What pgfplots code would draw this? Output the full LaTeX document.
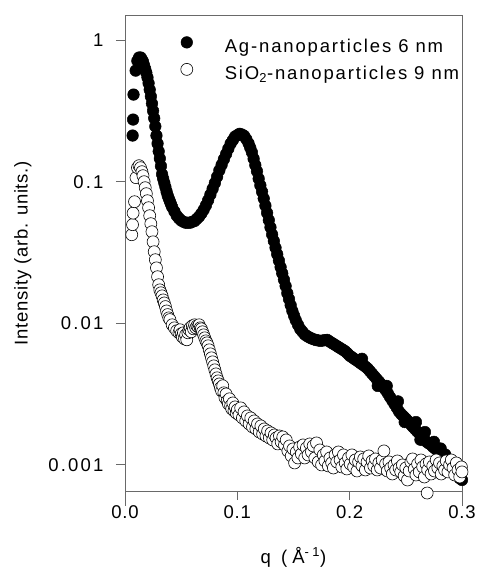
\documentclass[border=0pt]{standalone}
\usepackage{fontspec}
\setmainfont{Liberation Sans}[LetterSpace=4]
\newfontfamily\legfont{Liberation Sans}[LetterSpace=10]
\newfontfamily\ytfont{Liberation Sans}[LetterSpace=12]
\newfontfamily\xlfont{Liberation Sans}[LetterSpace=27]
\usepackage{pgfplots}
\pgfplotsset{compat=1.18}
\usepackage{pgfplotstable}
\definecolor{axgray}{RGB}{105,105,105}

\pgfplotstableread{
q I
0.0068 0.212
0.0072 0.275
0.0076 0.413
0.0095 0.610
0.0110 0.715
0.0125 0.755
0.0140 0.755
0.0150 0.730
0.016 0.707
0.017 0.665
0.018 0.627
0.019 0.589
0.020 0.545
0.021 0.497
0.022 0.447
0.023 0.401
0.024 0.357
0.025 0.317
0.026 0.281
0.027 0.246
0.028 0.212
0.029 0.186
0.030 0.164
0.031 0.146
0.032 0.129
0.033 0.113
0.034 0.105
0.035 0.0981
0.036 0.0915
0.037 0.0852
0.038 0.0798
0.039 0.0760
0.040 0.0725
0.041 0.0692
0.042 0.0661
0.044 0.0616
0.046 0.0576
0.048 0.0551
0.050 0.0532
0.052 0.0521
0.054 0.0513
0.056 0.0513
0.058 0.0513
0.060 0.0521
0.062 0.0528
0.064 0.0547
0.066 0.0567
0.068 0.0596
0.070 0.0632
0.072 0.0679
0.074 0.0739
0.076 0.0810
0.078 0.0890
0.080 0.0979
0.082 0.1084
0.084 0.1203
0.086 0.1315
0.088 0.1441
0.090 0.1568
0.092 0.1710
0.094 0.1858
0.096 0.1967
0.098 0.2086
0.100 0.2131
0.102 0.2181
0.104 0.2156
0.106 0.2111
0.108 0.2000
0.110 0.1867
0.1115 0.1738
0.113 0.1612
0.1145 0.1455
0.116 0.1311
0.1175 0.1185
0.119 0.105
0.1205 0.0943
0.122 0.0850
0.1235 0.0761
0.125 0.0677
0.1265 0.0602
0.128 0.0535
0.1295 0.0476
0.131 0.0423
0.1325 0.0381
0.134 0.0341
0.1355 0.0307
0.137 0.0277
0.1385 0.0249
0.140 0.0225
0.1415 0.0203
0.143 0.0183
0.1445 0.0163
0.146 0.0148
0.1475 0.0134
0.149 0.0122
0.1505 0.0113
0.152 0.0105
0.154 0.00974
0.156 0.00909
0.158 0.00869
0.160 0.00832
0.162 0.00811
0.164 0.00794
0.166 0.00780
0.168 0.00769
0.170 0.00760
0.172 0.00755
0.174 0.00750
0.176 0.00754
0.178 0.00759
0.180 0.00762
0.182 0.00743
0.184 0.00726
0.186 0.00710
0.188 0.00694
0.190 0.00678
0.192 0.00663
0.194 0.00648
0.196 0.00633
0.198 0.00612
0.200 0.00589
0.202 0.00575
0.204 0.00560
0.206 0.00547
0.208 0.00533
0.210 0.00519
0.211 0.00560
0.212 0.00506
0.214 0.00493
0.216 0.00478
0.218 0.00458
0.220 0.00439
0.222 0.00421
0.224 0.00403
0.225 0.00360
0.226 0.00387
0.228 0.00370
0.230 0.00353
0.232 0.00337
0.233 0.00360
0.234 0.00319
0.236 0.00300
0.238 0.00283
0.240 0.00267
0.242 0.00252
0.243 0.00280
0.244 0.00237
0.246 0.00227
0.248 0.00219
0.249 0.00200
0.250 0.00211
0.252 0.00203
0.254 0.00194
0.256 0.00186
0.258 0.00179
0.259 0.00200
0.260 0.00172
0.262 0.00166
0.263 0.00150
0.264 0.00160
0.266 0.00153
0.267 0.00170
0.268 0.00146
0.270 0.00142
0.272 0.00139
0.274 0.00134
0.275 0.00145
0.276 0.00130
0.278 0.00126
0.280 0.00121
0.281 0.00130
0.282 0.00116
0.284 0.00112
0.285 0.00118
0.286 0.00108
0.288 0.00104
0.289 0.00095
0.290 0.00102
0.292 0.000941
0.294 0.000882
0.296 0.000841
0.298 0.000800
0.300 0.000779
}\agdata

\pgfplotstableread{
q I
0.0060 0.0422
0.0067 0.0497
0.0072 0.0600
0.0085 0.0722
0.0098 0.1068
0.0111 0.1256
0.0125 0.1298
0.0138 0.1256
0.0151 0.1177
0.016 0.1103
0.017 0.1000
0.018 0.0907
0.019 0.0823
0.020 0.0734
0.021 0.0655
0.022 0.0575
0.023 0.0505
0.024 0.0443
0.025 0.0376
0.026 0.0320
0.027 0.0281
0.028 0.0246
0.029 0.0213
0.030 0.0187
0.031 0.0172
0.032 0.0164
0.033 0.0156
0.034 0.0146
0.035 0.0139
0.036 0.0131
0.037 0.0122
0.038 0.0115
0.039 0.0109
0.040 0.0106
0.042 0.00974
0.044 0.00927
0.046 0.00883
0.048 0.00855
0.049 0.00898
0.050 0.00841
0.051 0.00801
0.052 0.00855
0.053 0.00775
0.054 0.00827
0.055 0.00763
0.056 0.00855
0.057 0.00898
0.058 0.00927
0.059 0.00869
0.060 0.00958
0.061 0.00912
0.062 0.00974
0.063 0.00927
0.064 0.00958
0.065 0.00942
0.066 0.00974
0.067 0.00927
0.068 0.00912
0.069 0.00869
0.070 0.00827
0.071 0.00788
0.072 0.00750
0.073 0.00726
0.074 0.00692
0.075 0.00648
0.076 0.00607
0.077 0.00569
0.078 0.00533
0.079 0.00499
0.080 0.00468
0.081 0.00438
0.082 0.00411
0.083 0.00391
0.084 0.00372
0.085 0.00349
0.086 0.00332
0.087 0.00361
0.088 0.00322
0.089 0.00297
0.090 0.00316
0.091 0.00282
0.092 0.00269
0.093 0.00292
0.094 0.00260
0.095 0.00248
0.096 0.00273
0.097 0.00240
0.098 0.00256
0.099 0.00232
0.100 0.00244
0.1015 0.002246
0.103 0.002518
0.1045 0.002139
0.106 0.002359
0.1075 0.002037
0.109 0.002210
0.1105 0.001940
0.112 0.002139
0.1135 0.001848
0.115 0.002037
0.1165 0.001788
0.118 0.001940
0.1195 0.001703
0.121 0.001878
0.1225 0.001648
0.124 0.001788
0.1255 0.001595
0.127 0.001731
0.1285 0.001544
0.130 0.001675
0.1315 0.001495
0.133 0.001622
0.1345 0.001544
0.136 0.001401
0.1375 0.001595
0.139 0.001447
0.1405 0.001570
0.142 0.001378
0.1435 0.001495
0.145 0.001250
0.1465 0.001356
0.148 0.001152
0.1495 0.001291
0.151 0.001028
0.1525 0.001229
0.154 0.001115
0.1555 0.001334
0.157 0.001190
0.1585 0.001378
0.160 0.001115
0.1615 0.001312
0.163 0.001171
0.1645 0.001401
0.166 0.001229
0.1675 0.001356
0.169 0.001115
0.1705 0.001424
0.172 0.001045
0.1735 0.001270
0.175 0.000995
0.1765 0.001171
0.178 0.001062
0.1795 0.001229
0.181 0.000979
0.1825 0.001115
0.184 0.001028
0.1855 0.000947
0.187 0.001171
0.1885 0.001045
0.190 0.001229
0.1915 0.001079
0.193 0.000963
0.1945 0.001171
0.196 0.001028
0.1975 0.000932
0.199 0.001115
0.2005 0.001011
0.202 0.001171
0.2035 0.000963
0.205 0.001079
0.2065 0.000902
0.208 0.001045
0.2095 0.001133
0.211 0.000979
0.2125 0.001097
0.214 0.000917
0.2155 0.001045
0.217 0.001152
0.2185 0.000947
0.220 0.001062
0.2215 0.000979
0.223 0.001097
0.2245 0.000917
0.226 0.001028
0.2275 0.000947
0.229 0.001079
0.2305 0.001250
0.232 0.001011
0.2335 0.000902
0.235 0.001045
0.2365 0.000947
0.238 0.000859
0.2395 0.000995
0.241 0.000917
0.2425 0.001062
0.244 0.000947
0.2455 0.000888
0.247 0.000995
0.2485 0.000832
0.250 0.000947
0.2515 0.000779
0.253 0.000902
0.2545 0.001045
0.256 0.001097
0.2575 0.000932
0.259 0.000845
0.2605 0.001011
0.262 0.000888
0.2635 0.001079
0.265 0.000963
0.2665 0.000818
0.268 0.001011
0.269 0.000630
0.2695 0.000917
0.271 0.001045
0.2725 0.000859
0.274 0.000979
0.2755 0.000902
0.277 0.001079
0.2785 0.000947
0.280 0.001028
0.2815 0.000859
0.283 0.000979
0.2845 0.000917
0.286 0.001062
0.2875 0.000888
0.289 0.000995
0.2905 0.001079
0.292 0.000947
0.2935 0.000845
0.295 0.001028
0.2965 0.000917
0.298 0.000818
0.2995 0.000963
0.300 0.000888
}\sidata

\begin{document}
\begin{tikzpicture}
\useasboundingbox (-125pt,-77pt) rectangle (352pt,491pt);
\begin{axis}[
  scale only axis, width=337pt, height=475.5pt,
  xmin=0, xmax=0.3, ymode=log, ymin=0.000651, ymax=1.496,
  axis line style={axgray, line width=0.9pt},
  tick style={axgray, line width=0.9pt},
  tick align=outside, xtick pos=bottom, ytick pos=left,
  major tick length=9pt,
  xtick={0,0.1,0.2,0.3}, xticklabels={0.0,0.1,0.2,0.3},
  ytick={0.001,0.01,0.1,1}, yticklabels={0.001,0.01,0.1,1},
  yminorticks=false, minor x tick num=0,
  extra x ticks={0,0.3}, extra x tick labels={},
  extra x tick style={major tick length=15pt},
  xticklabel style={font=\fontsize{18.5}{22}\selectfont, yshift=-2pt},
  yticklabel style={font=\ytfont\fontsize{18.5}{22}\selectfont, xshift=-9pt},
  xlabel={\xlfont q (Å\textsuperscript{-1})},
  ylabel={Intensity (arb. units.)},
  xlabel style={font=\fontsize{18.5}{22}\selectfont, at={(axis description cs:0.5,-0.139)}, anchor=center},
  ylabel style={font=\fontsize{18.5}{22}\selectfont, at={(axis description cs:-0.303,0.5)}, anchor=center},
  clip=false,
  legend cell align=left,
  legend image code/.code={\draw[#1] plot coordinates {(0pt,6.5pt)};},
  legend style={at={(axis description cs:0.165,0.9586)}, anchor=north west,
    draw=none, fill=none, inner sep=0pt, row sep=0pt,
    font=\legfont\fontsize{18.5}{22}\selectfont,
    nodes={text height=13pt, text depth=5pt, inner ysep=4.5pt, inner xsep=1pt},
    /tikz/every odd column/.append style={column sep=31pt}},
]
\addplot[only marks, mark=*, mark size=5.8pt, mark options={fill=black, draw=black, line width=0.5pt}] table[x=q, y=I] {\agdata};
\addlegendentry{Ag-nanoparticles 6 nm}
\addplot[only marks, mark=*, mark size=6pt, mark options={fill=white, draw=black, line width=0.6pt}] table[x=q, y=I] {\sidata};
\addlegendentry{SiO\textsubscript{2}-nanoparticles 9 nm}
\end{axis}
\end{tikzpicture}
\end{document}
